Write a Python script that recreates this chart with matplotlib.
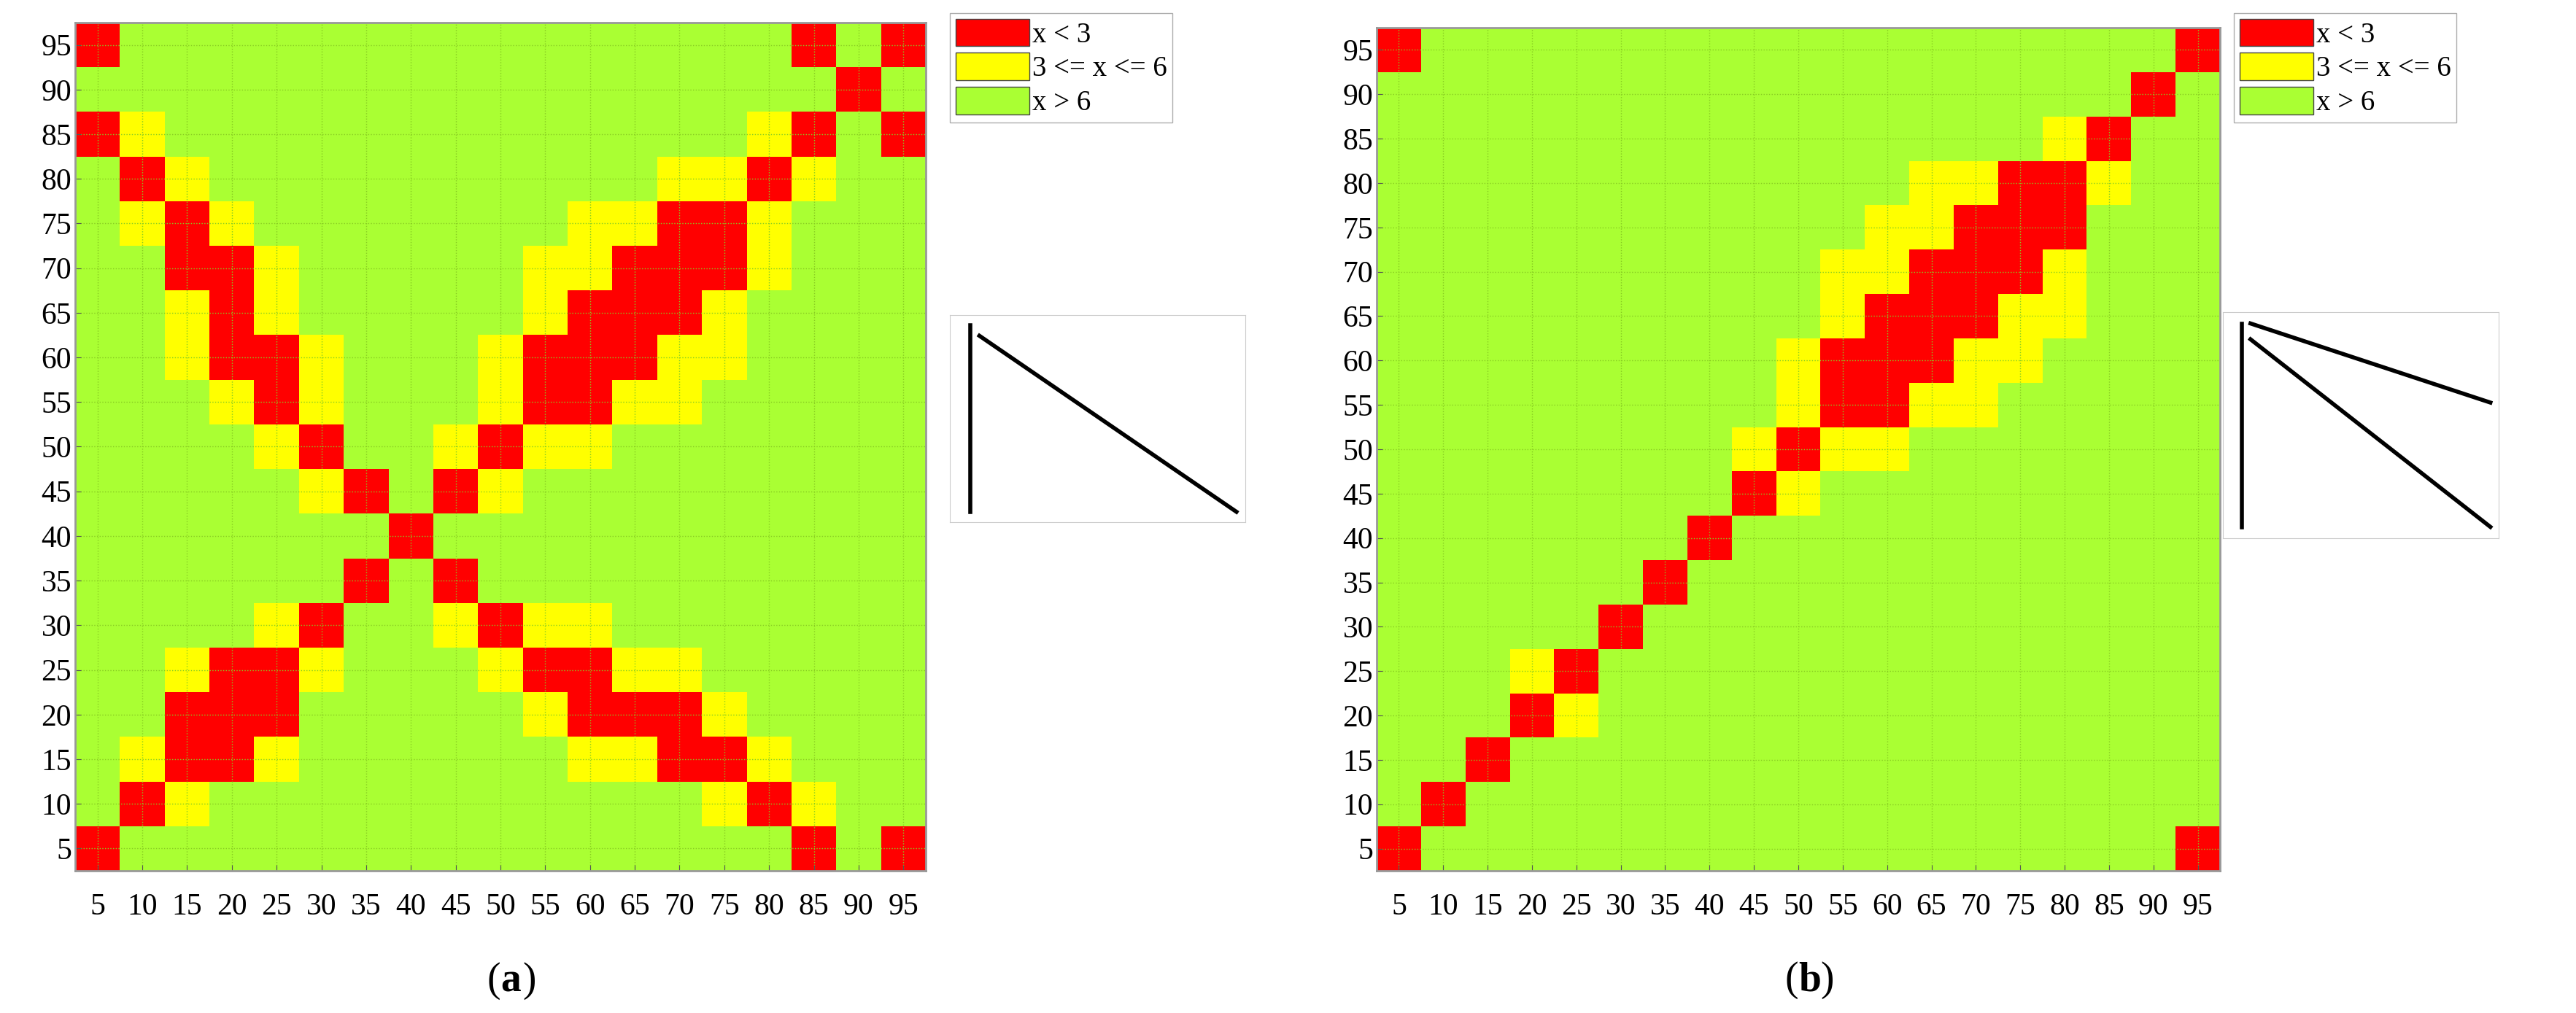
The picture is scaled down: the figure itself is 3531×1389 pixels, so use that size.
import numpy as np
import matplotlib.pyplot as plt
from matplotlib.colors import ListedColormap
from matplotlib.patches import Patch

plt.rcParams['font.family'] = ['Liberation Serif', 'DejaVu Serif']

ticks = list(range(5, 100, 5))
labels_legend = ["x < 3", "3 <= x <= 6", "x > 6"]
colors = ["#ff0000", "#ffff00", "#aaff33"]

# cells per row (y value): (x values red, x values yellow); everything else green
cells_a = {
    95: ([5, 85, 95], []),
    90: ([90], []),
    85: ([5, 85, 95], [10, 80]),
    80: ([10, 80], [15, 70, 75, 85]),
    75: ([15, 70, 75], [10, 20, 60, 65, 80]),
    70: ([15, 20, 65, 70, 75], [25, 55, 60, 80]),
    65: ([20, 60, 65, 70], [15, 25, 55, 75]),
    60: ([20, 25, 55, 60, 65], [15, 30, 50, 70, 75]),
    55: ([25, 55, 60], [20, 30, 50, 65, 70]),
    50: ([30, 50], [25, 45, 55, 60]),
    45: ([35, 45], [30, 50]),
    40: ([40], []),
    35: ([35, 45], []),
    30: ([30, 50], [25, 45, 55, 60]),
    25: ([20, 25, 55, 60], [15, 30, 50, 65, 70]),
    20: ([15, 20, 25, 60, 65, 70], [55, 75]),
    15: ([15, 20, 70, 75], [10, 25, 60, 65, 80]),
    10: ([10, 80], [15, 75, 85]),
    5: ([5, 85, 95], []),
}
cells_b = {
    95: ([5, 95], []),
    90: ([90], []),
    85: ([85], [80]),
    80: ([75, 80], [65, 70, 85]),
    75: ([70, 75, 80], [60, 65]),
    70: ([65, 70, 75], [55, 60, 80]),
    65: ([60, 65, 70], [55, 75, 80]),
    60: ([55, 60, 65], [50, 70, 75]),
    55: ([55, 60], [50, 65, 70]),
    50: ([50], [45, 55, 60]),
    45: ([45], [50]),
    40: ([40], []),
    35: ([35], []),
    30: ([30], []),
    25: ([25], [20]),
    20: ([20], [25]),
    15: ([15], []),
    10: ([10], []),
    5: ([5, 95], []),
}

# inset line sketches (normalized coords)
inset_a = [([0.07, 0.07], [0.05, 0.95]), ([0.1, 0.97], [0.9, 0.05])]
inset_b = [([0.07, 0.07], [0.05, 0.95]), ([0.1, 0.97], [0.88, 0.05]),
           ([0.1, 0.97], [0.95, 0.6])]


def build(cells):
    m = np.full((19, 19), 2)
    for y, (red, yel) in cells.items():
        for x in red:
            m[y // 5 - 1, x // 5 - 1] = 0
        for x in yel:
            m[y // 5 - 1, x // 5 - 1] = 1
    return m


W, H = 3531, 1389
fig = plt.figure(figsize=(W / 100, H / 100), dpi=100)


def box(x0, y0, x1, y1):
    return [x0 / W, 1 - y1 / H, (x1 - x0) / W, (y1 - y0) / H]


cmap = ListedColormap(colors)
panels = [
    (cells_a, inset_a, (103, 31, 1269, 1194), (1302, 18, 1703, 158), (1302, 432, 1707, 716), "a"),
    (cells_b, inset_b, (1887, 38, 3043, 1194), (3062, 18, 3447, 158), (3047, 428, 3425, 738), "b"),
]
for cells, inset, axb, legb, insb, tag in panels:
    ax = fig.add_axes(box(*axb))
    m = build(cells)
    ax.pcolormesh(np.arange(2.5, 100, 5), np.arange(2.5, 100, 5), m, cmap=cmap, vmin=0, vmax=2)
    ax.set_xticks(ticks)
    ax.set_yticks(ticks)
    ax.tick_params(direction="in", labelsize=30, length=6, color="#555555")
    ax.tick_params(axis="x", pad=22)
    ax.grid(True, linestyle=":", color="#88cc22", linewidth=1)
    for s in ax.spines.values():
        s.set_color("#999999")
        s.set_linewidth(2)
    ax.text(0.5, -0.13, "(", transform=ax.transAxes, ha="right", va="center", fontsize=40)
    ax.text(0.5, -0.13, tag, transform=ax.transAxes, ha="left", va="center", fontsize=40, fontweight="bold")
    ax.text(0.5 + 0.026, -0.13, ")", transform=ax.transAxes, ha="left", va="center", fontsize=40)

    lax = fig.add_axes(box(*legb))
    lax.axis("off")
    handles = [Patch(facecolor=c, edgecolor="#444444") for c in colors]
    lax.legend(handles, labels_legend, loc="upper left", fontsize=28, frameon=True,
               edgecolor="#999999", fancybox=False, handlelength=2.6, handleheight=1.1,
               handletextpad=0.1, labelspacing=0.15, borderpad=0.2, borderaxespad=0)

    iax = fig.add_axes(box(*insb))
    for xs, ys in inset:
        iax.plot(xs, ys, color="black", linewidth=4)
    iax.set_xlim(0, 1)
    iax.set_ylim(0, 1)
    iax.set_xticks([])
    iax.set_yticks([])
    for s in iax.spines.values():
        s.set_color("#cccccc")

fig.savefig("out.png", dpi=100)
